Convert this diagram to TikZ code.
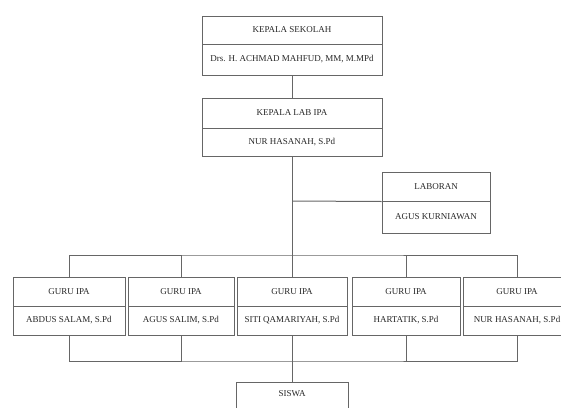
\documentclass[tikz,border=0pt]{standalone}
\usepackage{fontspec}
\setmainfont{Liberation Serif}
\begin{document}
\begin{tikzpicture}[x=1pt,y=-1pt,
  every node/.style={font=\fontsize{9}{10}\selectfont, text=black!85},
  cell/.style={draw=black!60, line width=1pt, rectangle, inner sep=0pt, anchor=center},
  link/.style={draw=black!60, line width=1pt}]
\useasboundingbox (0,0) rectangle (561,407);
\clip (0,0) rectangle (561,407);
% top boxes
\node[cell, minimum width=180, minimum height=28] (ks1) at (292,30) {KEPALA SEKOLAH};
\node[cell, minimum width=180, minimum height=31] (ks2) at (292,59.5) {Drs. H. ACHMAD MAHFUD, MM, M.MPd};
\node[cell, minimum width=180, minimum height=30] (lab1) at (292,113) {KEPALA LAB IPA};
\node[cell, minimum width=180, minimum height=28] (lab2) at (292,142) {NUR HASANAH, S.Pd};
% laboran
\node[cell, minimum width=108, minimum height=29] (lb1) at (436,186.5) {LABORAN};
\node[cell, minimum width=108, minimum height=32] (lb2) at (436,217) {AGUS KURNIAWAN};
% guru
\node[cell, minimum width=112, minimum height=29] (g1a) at (69,291.5) {GURU IPA};
\node[cell, minimum width=112, minimum height=29] (g1b) at (69,320.5) {ABDUS SALAM, S.Pd};
\node[cell, minimum width=106, minimum height=29] (g2a) at (181,291.5) {GURU IPA};
\node[cell, minimum width=106, minimum height=29] (g2b) at (181,320.5) {AGUS SALIM, S.Pd};
\node[cell, minimum width=110, minimum height=29] (g3a) at (292,291.5) {GURU IPA};
\node[cell, minimum width=110, minimum height=29] (g3b) at (292,320.5) {SITI QAMARIYAH, S.Pd};
\node[cell, minimum width=108, minimum height=29] (g4a) at (406,291.5) {GURU IPA};
\node[cell, minimum width=108, minimum height=29] (g4b) at (406,320.5) {HARTATIK, S.Pd};
\node[cell, minimum width=108, minimum height=29] (g5a) at (517,291.5) {GURU IPA};
\node[cell, minimum width=108, minimum height=29] (g5b) at (517,320.5) {NUR HASANAH, S.Pd};
% siswa
\node[cell, minimum width=112, minimum height=28] (sw) at (292,396) {};
\node (swt) at (292,394) {SISWA};
% connectors
\coordinate (jl) at (292,201);
\coordinate (bus) at (292,255);
\coordinate (bus2) at (292,361);
\draw[link] (ks2.south) -- (lab1.north);
\draw[link] (lab2.south) -- (bus);
\draw[link] (jl) -- (lb1.south west);
\draw[link] (g1a.north) |- (bus) -| (g5a.north);
\draw[link] (g2a.north) -- (g2a.north |- bus);
\draw[link] (g3a.north) -- (g3a.north |- bus);
\draw[link] (g4a.north) -- (g4a.north |- bus);
\draw[link] (g1b.south) |- (bus2) -| (g5b.south);
\draw[link] (g2b.south) -- (g2b.south |- bus2);
\draw[link] (g3b.south) -- (g3b.south |- bus2);
\draw[link] (g4b.south) -- (g4b.south |- bus2);
\draw[link] (bus2) -- (sw.north);
\end{tikzpicture}
\end{document}
